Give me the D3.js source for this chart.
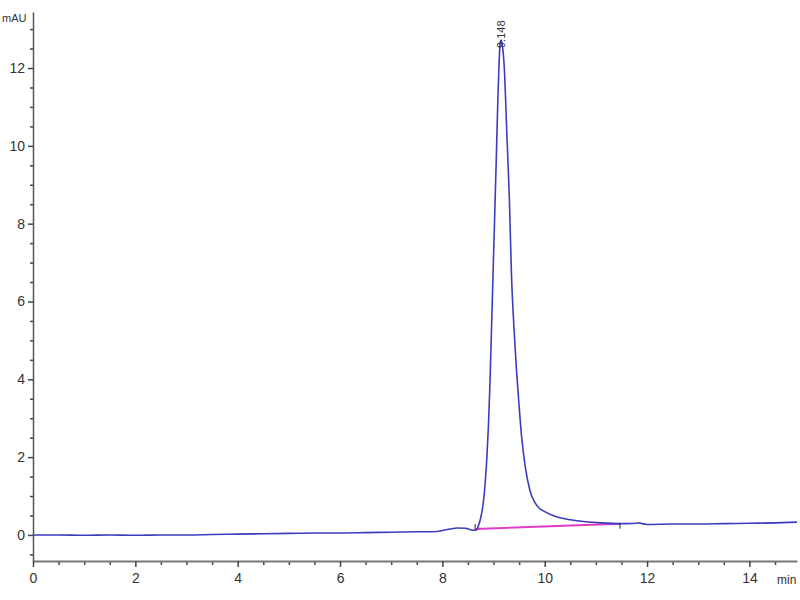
<!DOCTYPE html>
<html><head><meta charset="utf-8">
<script src="https://cdn.jsdelivr.net/npm/d3@7"></script>
<style>
html,body{margin:0;padding:0;background:#fff;overflow:hidden}
text{font-family:"Liberation Sans Narrow","Liberation Sans",Arial,sans-serif;fill:#333}
</style></head>
<body>
<svg id="c" width="800" height="600"></svg>
<script>
const times = [0,0.5,1.0,1.5,2.0,2.5,3.0,3.5,4.0,4.5,5.0,5.5,6.0,6.5,7.0,7.5,7.9,8.1,8.3,8.45,8.6,8.67,8.70,8.74,8.78,8.81,8.84,8.87,8.90,8.93,8.96,8.99,9.02,9.05,9.08,9.11,9.13,9.148,9.17,9.21,9.26,9.31,9.35,9.40,9.45,9.50,9.55,9.62,9.71,9.80,9.90,10.0,10.16,10.3,10.5,10.8,11.1,11.47,11.6,11.8,11.85,11.9,12.0,12.5,13.0,13.5,14.0,14.5,14.93];
const signal = [0.00,0.00,-0.01,0.00,-0.01,0.00,0.00,0.01,0.02,0.03,0.04,0.05,0.05,0.06,0.07,0.08,0.09,0.14,0.18,0.17,0.12,0.13,0.22,0.39,0.65,0.95,1.4,2.0,2.8,3.9,5.3,6.7,8.1,9.5,11.0,12.2,12.65,12.72,12.6,12.0,10.3,8.6,6.7,5.3,4.2,3.3,2.5,1.75,1.15,0.85,0.68,0.6,0.5,0.44,0.39,0.34,0.31,0.29,0.29,0.30,0.31,0.29,0.27,0.28,0.28,0.29,0.30,0.31,0.33];
const baselineTimes = [8.64, 11.47];
const baselineValues = [0.15, 0.29];
const peakTime = 9.148;
const peakHeight = 12.72;
const peakLabel = "9.148";
const yTickValues = [0,2,4,6,8,10,12];
const xTickValues = [0,2,4,6,8,10,12,14];
const yUnit = "mAU";
const xUnit = "min";

const svg = d3.select("#c");
const x = d3.scaleLinear().domain([0,14.93]).range([33,797]);
const y = d3.scaleLinear().domain([-0.67,13.44]).range([561,12]);

// Y axis
const yMinor = d3.range(-0.5,13.5,0.5).filter(v=>Math.abs(v%2)>1e-6);
const gyMinor = svg.append("g").attr("transform","translate(33,0)")
  .call(d3.axisLeft(y).tickValues(yMinor).tickSize(3).tickFormat(""));
gyMinor.select(".domain").remove();
gyMinor.selectAll("line").attr("stroke","#444").attr("stroke-width",1.5);
const gy = svg.append("g").attr("transform","translate(33,0)")
  .call(d3.axisLeft(y).tickValues(yTickValues).tickSize(5).tickSizeOuter(0).tickPadding(3));
gy.select(".domain").attr("stroke","#555").attr("stroke-width",1.5);
gy.selectAll("line").attr("stroke","#444").attr("stroke-width",1.5);
gy.selectAll("text").style("font-size","14px").attr("fill","#333");

// X axis
const xMinor = d3.range(0.5,15,0.5).filter(v=>Math.abs(v%2)>1e-6);
const gxMinor = svg.append("g").attr("transform","translate(0,561)")
  .call(d3.axisBottom(x).tickValues(xMinor).tickSize(4).tickFormat(""));
gxMinor.select(".domain").remove();
gxMinor.selectAll("line").attr("stroke","#444").attr("stroke-width",1.5);
const gx = svg.append("g").attr("transform","translate(0,561)")
  .call(d3.axisBottom(x).tickValues(xTickValues).tickSize(6).tickSizeOuter(0).tickPadding(6));
gx.select(".domain").attr("stroke","#777").attr("stroke-width",2);
gx.selectAll("line").attr("stroke","#444").attr("stroke-width",1.5);
gx.selectAll("text").style("font-size","14px").attr("fill","#333");

svg.append("text").attr("x",2).attr("y",22).style("font-size","11px").text(yUnit);
svg.append("text").attr("x",777).attr("y",584).style("font-size","12px").text(xUnit);

// baseline (integration)
const blData = baselineTimes.map((t,i)=>[t,baselineValues[i]]);
svg.append("path").datum(blData)
  .attr("d",d3.line().x(d=>x(d[0])).y(d=>y(d[1])))
  .attr("fill","none").attr("stroke","#e03cc8").attr("stroke-width",2);

// chromatogram
const data = times.map((t,i)=>[t,signal[i]]);
svg.append("path").datum(data)
  .attr("d",d3.line().x(d=>x(d[0])).y(d=>y(d[1])).curve(d3.curveMonotoneX))
  .attr("fill","none").attr("stroke","#3c3cc0").attr("stroke-width",1.6);

// integration ticks
svg.append("line").attr("x1",x(baselineTimes[0])).attr("x2",x(baselineTimes[0]))
  .attr("y1",y(baselineValues[0])-5).attr("y2",y(baselineValues[0])).attr("stroke","#222").attr("stroke-width",1);
svg.append("line").attr("x1",x(baselineTimes[1])).attr("x2",x(baselineTimes[1]))
  .attr("y1",y(baselineValues[1])).attr("y2",y(baselineValues[1])+5).attr("stroke","#222").attr("stroke-width",1);

// peak label
svg.append("text")
  .attr("transform",`translate(${x(peakTime)+4},${y(peakHeight)+8}) rotate(-90)`)
  .style("font-size","11px").attr("fill","#222").text(peakLabel);
</script>
</body></html>
